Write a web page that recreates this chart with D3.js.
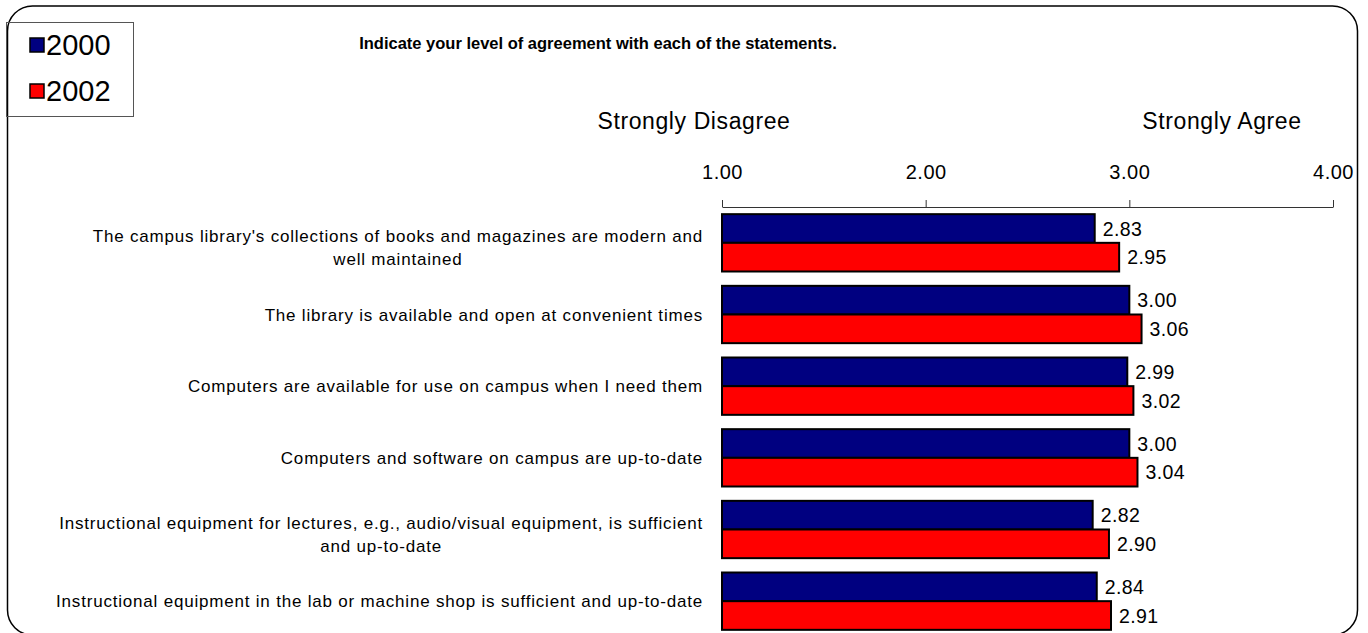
<!DOCTYPE html>
<html>
<head>
<meta charset="utf-8">
<script src="https://cdn.jsdelivr.net/npm/d3@7"></script>
<style>
  body { margin: 0; background: #fff; }
  text { font-family: "Liberation Sans", Arial, sans-serif; fill: #000; }
</style>
</head>
<body>
<div id="chart"></div>
<script>
// data
var categories = [
  "The campus library's collections of books and magazines are modern and\nwell maintained",
  "The library is available and open at convenient times",
  "Computers are available for use on campus when I need them",
  "Computers and software on campus are up-to-date",
  "Instructional equipment for lectures, e.g., audio/visual equipment, is sufficient\nand up-to-date",
  "Instructional equipment in the lab or machine shop is sufficient and up-to-date"
];
var years = ["2000", "2002"];
var values2000 = [2.83, 3.00, 2.99, 3.00, 2.82, 2.84];
var values2002 = [2.95, 3.06, 3.02, 3.04, 2.90, 2.91];
var tickValues = [1, 2, 3, 4];
var colors = ["#000080", "#ff0000"];
var title = "Indicate your level of agreement with each of the statements.";

var w = 1368;
var h = 633;

var svg = d3.select("#chart")
            .append("svg")
            .attr("width", w)
            .attr("height", h);

// outer rounded frame
svg.append("rect")
   .attr("x", 7.5).attr("y", 6)
   .attr("width", 1350).attr("height", 629)
   .attr("rx", 25).attr("ry", 25)
   .attr("fill", "none")
   .attr("stroke", "#000")
   .attr("stroke-width", 1.5);

var x = d3.scaleLinear().domain([1, 4]).range([722, 1333]);
var y0 = d3.scaleBand()
           .domain(d3.range(categories.length))
           .range([207, 637])
           .paddingInner(0.2)
           .paddingOuter(0.1);
var y1 = d3.scaleBand().domain(years).range([0, y0.bandwidth()]);

// title + end captions
svg.append("text")
   .attr("x", 598).attr("y", 49)
   .attr("text-anchor", "middle")
   .style("font-size", "16.5px")
   .style("font-weight", "bold")
   .text(title);

svg.append("text")
   .attr("x", 694).attr("y", 129)
   .attr("text-anchor", "middle")
   .style("font-size", "23px")
   .style("letter-spacing", "0.6px")
   .text("Strongly Disagree");

svg.append("text")
   .attr("x", 1222).attr("y", 129)
   .attr("text-anchor", "middle")
   .style("font-size", "23px")
   .style("letter-spacing", "0.6px")
   .text("Strongly Agree");

// axis on top
var axis = svg.append("g")
   .attr("transform", "translate(0,207)")
   .call(d3.axisTop(x)
           .tickValues(tickValues)
           .tickSize(7)
           .tickSizeOuter(0)
           .tickPadding(21)
           .tickFormat(d3.format(".2f")));
axis.selectAll("path, line").attr("stroke", "#333");
axis.selectAll("text")
    .style("font-family", "'Liberation Sans', Arial, sans-serif")
    .style("font-size", "20px")
    .style("letter-spacing", "0.5px")
    .attr("fill", "#000");

// bars
var groups = svg.selectAll("g.cat")
   .data(categories)
   .enter()
   .append("g")
   .attr("class", "cat")
   .attr("transform", function(d, i){ return "translate(0," + y0(i) + ")"; });

groups.each(function(d, i){
    var g = d3.select(this);
    var vals = [values2000[i], values2002[i]];
    g.selectAll("rect")
     .data(vals)
     .enter()
     .append("rect")
     .attr("x", x(1))
     .attr("y", function(v, j){ return y1(years[j]); })
     .attr("width", function(v){ return x(v) - x(1); })
     .attr("height", y1.bandwidth())
     .attr("fill", function(v, j){ return colors[j]; })
     .attr("stroke", "#000")
     .attr("stroke-width", 2);

    g.selectAll("text.val")
     .data(vals)
     .enter()
     .append("text")
     .attr("class", "val")
     .attr("x", function(v){ return x(v) + 8; })
     .attr("y", function(v, j){ return y1(years[j]) + y1.bandwidth() / 2; })
     .attr("dy", "0.36em")
     .style("font-size", "19.5px")
     .style("letter-spacing", "0.4px")
     .text(function(v){ return v.toFixed(2); });

    // category label, lines centred inside a right-aligned block
    var lines = d.split("\n");
    var shift = lines.length > 1 ? 5 : 0;
    var lab = g.append("text")
     .style("font-size", "17px")
     .style("letter-spacing", "0.8px");
    lines.forEach(function(t, k){
        lab.append("tspan")
           .attr("y", y0.bandwidth() / 2 + shift + (k - (lines.length - 1) / 2) * 23)
           .attr("dy", "0.36em")
           .text(t);
    });
    var maxW = 0;
    lab.selectAll("tspan").each(function(){
        maxW = Math.max(maxW, this.getComputedTextLength());
    });
    lab.attr("text-anchor", "middle")
       .selectAll("tspan").attr("x", 703 - maxW / 2);
});

// legend
var legend = svg.append("g");
legend.append("rect")
   .attr("x", 6.5).attr("y", 22.5)
   .attr("width", 127).attr("height", 94)
   .attr("fill", "none")
   .attr("stroke", "#555")
   .attr("stroke-width", 1);

years.forEach(function(yr, j){
    var cy = 45 + j * 46;
    legend.append("rect")
       .attr("x", 30).attr("y", cy - 7)
       .attr("width", 14).attr("height", 14)
       .attr("fill", colors[j])
       .attr("stroke", "#000")
       .attr("stroke-width", 1.5);
    legend.append("text")
       .attr("x", 46).attr("y", cy)
       .attr("dy", "0.36em")
       .style("font-size", "29px")
       .text(yr);
});
</script>
</body>
</html>
